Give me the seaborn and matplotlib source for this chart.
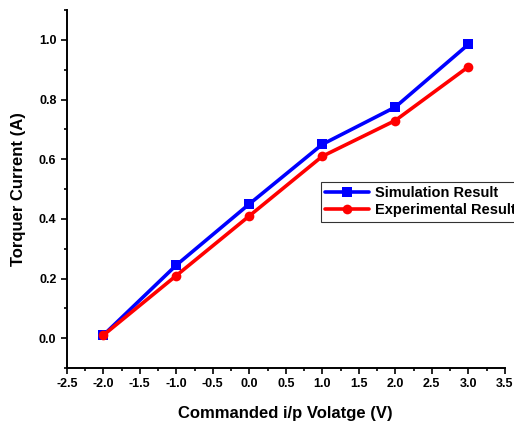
import seaborn as sns
from matplotlib import pyplot as plt
from matplotlib.ticker import MultipleLocator
import pandas as pd

# data
voltage = [-2.0, -1.0, 0.0, 1.0, 2.0, 3.0]
simulation = [0.01, 0.245, 0.45, 0.65, 0.775, 0.985]
experimental = [0.01, 0.21, 0.41, 0.61, 0.73, 0.91]

sns.set_style('ticks', {'axes.edgecolor': 'black', 'text.color': 'black',
                        'axes.labelcolor': 'black', 'xtick.color': 'black',
                        'ytick.color': 'black'})
plt.rcParams['font.family'] = ['Liberation Sans', 'DejaVu Sans']
plt.rcParams['font.weight'] = 'bold'
plt.rcParams['axes.unicode_minus'] = False

df = pd.DataFrame({
    'v': voltage * 2,
    'i': simulation + experimental,
    'series': ['Simulation Result'] * 6 + ['Experimental Result'] * 6,
})

fig = plt.figure(figsize=(5.14, 4.24), dpi=100)
ax = fig.add_axes([0.130, 0.132, 0.852, 0.844])

sns.lineplot(data=df, x='v', y='i', hue='series', style='series',
             palette={'Simulation Result': '#0000ff', 'Experimental Result': '#ff0000'},
             markers={'Simulation Result': 's', 'Experimental Result': 'o'},
             dashes=False, linewidth=2.6, markersize=7, markeredgewidth=0, ax=ax)

ax.set_xlim(-2.5, 3.5)
ax.set_ylim(-0.1, 1.1)
ax.xaxis.set_major_locator(MultipleLocator(0.5))
ax.xaxis.set_minor_locator(MultipleLocator(0.25))
ax.yaxis.set_major_locator(MultipleLocator(0.2))
ax.yaxis.set_minor_locator(MultipleLocator(0.1))
ax.set_yticks([0.0, 0.2, 0.4, 0.6, 0.8, 1.0])
ax.tick_params(which='major', direction='out', length=4, width=1.2, labelsize=9)
ax.tick_params(which='minor', direction='out', length=2.5, width=1.2)
for lbl in ax.get_xticklabels() + ax.get_yticklabels():
    lbl.set_fontweight('bold')
ax.spines[['top', 'right']].set_visible(False)
ax.spines['left'].set_linewidth(1.4)
ax.spines['bottom'].set_linewidth(1.4)

ax.set_xlabel('Commanded i/p Volatge (V)', fontsize=12, fontweight='bold', labelpad=11)
ax.set_ylabel('Torquer Current (A)', fontsize=12, fontweight='bold', labelpad=9)

leg = ax.legend(loc='upper left', bbox_to_anchor=(0.563, 0.54), fancybox=False,
                frameon=True, edgecolor='black', prop={'weight': 'bold', 'size': 10.5},
                handlelength=3, borderpad=0.3, labelspacing=0.2, handletextpad=0.4)
leg.get_frame().set_linewidth(0.8)

fig.savefig('out.png', dpi=100)
